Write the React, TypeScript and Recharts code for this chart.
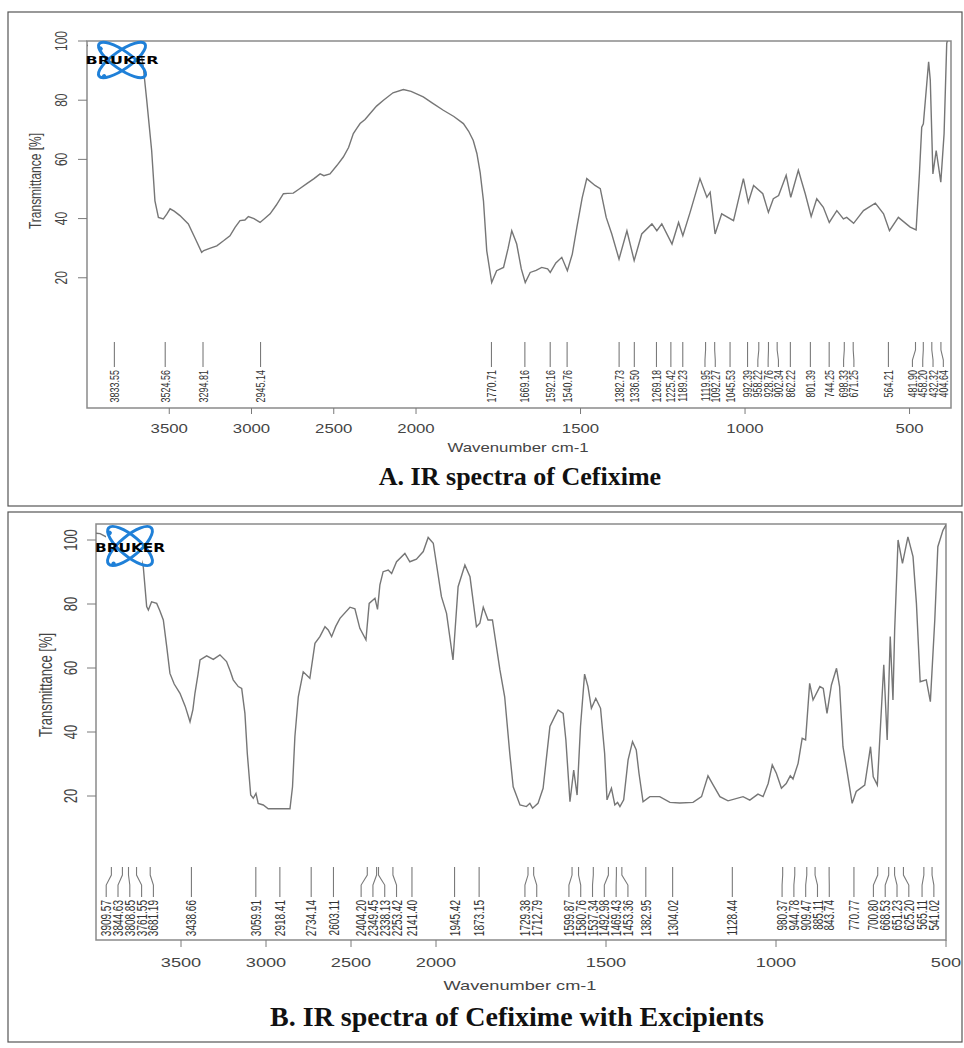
import React from 'react';
import { ComposedChart, Line, Scatter, XAxis, YAxis, ReferenceArea } from 'recharts';

// A. Cefixime
const wavenumberA = [
  4000, 3900, 3800, 3700, 3672, 3658, 3637, 3607, 3587, 3566,
  3536, 3515, 3495, 3470, 3435, 3384, 3340, 3303, 3290, 3250,
  3211, 3170, 3131, 3100, 3070, 3040, 3019, 2985, 2948, 2920,
  2887, 2850, 2806, 2780, 2746, 2710, 2664, 2620, 2583, 2560,
  2523, 2480, 2442, 2410, 2381, 2360, 2340, 2310, 2279, 2240,
  2198, 2140, 2077, 2030, 1978, 1950, 1917, 1885, 1856, 1840,
  1826, 1815, 1805, 1795, 1785, 1770, 1755, 1734, 1720, 1709,
  1694, 1680, 1668, 1653, 1635, 1618, 1600, 1592, 1575, 1557,
  1540, 1525, 1511, 1495, 1481, 1456, 1440, 1422, 1405, 1383,
  1359, 1337, 1314, 1283, 1268, 1253, 1222, 1202, 1189, 1167,
  1137, 1116, 1106, 1091, 1071, 1035, 1005, 990, 974, 946,
  929, 914, 898, 875, 861, 838, 817, 799, 782, 762,
  744, 721, 701, 691, 670, 640, 604, 579, 561, 534,
  498, 480, 470, 463, 458, 442, 437, 429, 419, 405,
  395, 387, 378,
];
const transmittanceA = [
  98.5, 98.8, 99, 98, 96, 91.3, 80, 63, 46, 40.4,
  39.9, 41.5, 43.3, 42.5, 41, 38.2, 33, 28.6, 29.2, 30,
  30.8, 32.5, 34.2, 37, 39.3, 39.5, 40.7, 40, 38.7, 40,
  41.6, 44.5, 48.4, 48.5, 48.6, 50, 51.8, 53.5, 55.1, 54.5,
  55.1, 58, 60.8, 64, 68.7, 70.5, 72.1, 73.5, 75.5, 78,
  80, 82.5, 83.6, 83, 81.1, 79, 76.6, 74.5, 72.1, 69.5,
  66.4, 62, 55.5, 46, 29.1, 18.4, 22.4, 23.5, 30, 35.9,
  31.4, 23, 18.4, 21.8, 22.5, 23.5, 23, 21.8, 25, 26.9,
  22.4, 28, 37.1, 47, 53.5, 51.2, 50.1, 40.4, 34.8, 26.3,
  35.9, 25.8, 34.8, 38.2, 35.9, 38.2, 31.4, 38.7, 34.2, 42.1,
  53.5, 47.2, 48.9, 34.8, 41.6, 39.3, 53.5, 45.5, 51.2, 48.4,
  42.1, 46.7, 47.8, 54.6, 47.2, 56.3, 48.4, 40.7, 46.7, 43.8,
  38.7, 42.7, 39.9, 40.4, 38.4, 42.7, 45.2, 41.6, 35.9, 40.4,
  37.1, 36.2, 55.1, 70.9, 72, 93, 86.8, 55.1, 63, 52.3,
  68.7, 99.2, 103,
];
const peaksA = [
  3833.55, 3524.56, 3294.81, 2945.14, 1770.71, 1669.16, 1592.16, 1540.76,
  1382.73, 1336.5, 1269.18, 1225.42, 1189.23, 1119.95, 1092.27, 1045.53,
  992.39, 958.22, 928.76, 902.34, 862.22, 801.39, 744.25, 698.33, 671.25,
  564.21, 481.9, 458.2, 432.32, 404.64,
];

// B. Cefixime with excipients
const wavenumberB = [
  4000, 3976, 3940, 3918, 3859, 3800, 3750, 3722, 3702, 3692,
  3673, 3643, 3625, 3604, 3584, 3565, 3540, 3506, 3475, 3447,
  3430, 3418, 3400, 3388, 3349, 3310, 3271, 3232, 3210, 3193,
  3163, 3143, 3124, 3110, 3090, 3075, 3059, 3046, 3016, 2987,
  2920, 2859, 2844, 2830, 2810, 2781, 2742, 2712, 2683, 2653,
  2634, 2614, 2590, 2565, 2506, 2477, 2448, 2412, 2393, 2359,
  2344, 2330, 2311, 2281, 2261, 2232, 2183, 2154, 2115, 2075,
  2046, 2016, 1984, 1969, 1950, 1935, 1915, 1900, 1881, 1871,
  1861, 1847, 1834, 1812, 1798, 1783, 1773, 1753, 1734, 1724,
  1716, 1700, 1685, 1665, 1651, 1641, 1626, 1618, 1606, 1595,
  1585, 1575, 1563, 1553, 1543, 1530, 1516, 1504, 1497, 1484,
  1474, 1466, 1459, 1448, 1435, 1422, 1411, 1403, 1391, 1371,
  1342, 1312, 1283, 1244, 1219, 1200, 1185, 1165, 1141, 1097,
  1077, 1053, 1038, 1023, 1011, 999, 984, 970, 958, 950,
  935, 923, 913, 901, 891, 871, 861, 850, 837, 822,
  813, 803, 790, 776, 764, 739, 722, 714, 702, 683,
  673, 664, 656, 651, 641, 628, 612, 597, 587, 576,
  558, 546, 533, 524, 509, 500,
];
const transmittanceB = [
  102.1, 102, 101, 100, 100, 99, 97, 91.7, 79.2, 78.1,
  80.7, 80.2, 78, 75, 66.7, 58.3, 55, 52.1, 48, 43.2,
  47, 52.1, 58, 62.5, 63.8, 62.7, 64.1, 62, 59, 56.3,
  54.2, 53.6, 45.8, 33.3, 20.3, 19.3, 20.8, 17.7, 17.2, 16,
  16, 16, 22.9, 38.6, 51, 58.8, 56.8, 67.7, 69.8, 72.9,
  71.9, 69.8, 73, 75.5, 79, 78.5, 72.4, 68.8, 80.2, 81.8,
  78.3, 86, 90.1, 90.6, 89.5, 93.2, 95.8, 93.2, 94, 96.4,
  100.8, 99, 82.3, 77.1, 62.5, 85.4, 92.2, 88.5, 72.9, 74,
  79, 75, 75, 59.4, 51, 33.3, 22.9, 17.2, 16.7, 17.7,
  16.2, 17.7, 22.4, 41.7, 44.8, 46.9, 45.8, 37.5, 18.2, 28.1,
  20.3, 41.7, 58.1, 54.2, 47.4, 50.5, 47.4, 33.3, 18.8, 22.4,
  17.2, 18, 16.7, 18.8, 31.3, 37, 34.4, 27.1, 18.2, 19.8,
  19.8, 18, 17.8, 18, 19.8, 26.3, 23.5, 19.8, 18.5, 19.8,
  18.7, 20.6, 19.8, 23.9, 29.7, 27.1, 22.4, 23.9, 26.3, 25.3,
  30.2, 38, 37.5, 55.2, 50, 54.2, 53.6, 45.8, 54.7, 59.9,
  54.2, 35.4, 27.1, 17.7, 21.4, 23.4, 35.4, 26, 23.4, 61,
  37.5, 69.8, 50, 71.9, 100, 92.7, 101, 94.8, 80.2, 55.7,
  56.3, 49.5, 75, 97.9, 103, 104.7,
];
const peaksB = [
  3909.57, 3844.63, 3808.85, 3761.55, 3681.19, 3438.66, 3059.91, 2918.41,
  2734.14, 2603.11, 2404.2, 2349.45, 2338.13, 2253.42, 2141.4, 1945.42,
  1873.15, 1729.38, 1712.79, 1599.87, 1580.76, 1537.34, 1492.98, 1469.43,
  1453.36, 1382.95, 1304.02, 1128.44, 980.37, 944.78, 909.47, 885.11,
  843.74, 770.77, 700.8, 668.53, 651.23, 625.2, 565.11, 541.02,
];

const xTickLabels = [3500, 3000, 2500, 2000, 1500, 1000, 500];
const yTickLabels = [20, 40, 60, 80, 100];

// OPUS draws the range above 2000 cm-1 compressed by a factor of two
const T_MAX = 3000;
const toT = (w: number) => (w > 2000 ? 2000 + (w - 2000) / 2 : w);
const fromT = (t: number) => Math.round(t > 2000 ? 2000 + (t - 2000) * 2 : t);

const STRETCH = 1.4;
const SANS = '"Liberation Sans", Arial, sans-serif';
const SERIF = '"Liberation Serif", "Times New Roman", serif';
const Y_AXIS_W = 60;

// push crowded peak labels apart, keeping each group centred on its peaks
function spread(ideal: number[], gap: number, lo: number, hi: number) {
  type G = { n: number; sum: number; first: number };
  const place = (g: G) => {
    const f = g.sum / g.n - ((g.n - 1) * gap) / 2;
    g.first = Math.min(Math.max(f, lo), hi - (g.n - 1) * gap);
  };
  const groups: G[] = [];
  ideal.forEach((x) => {
    const g = { n: 1, sum: x, first: x };
    place(g);
    groups.push(g);
    while (groups.length > 1) {
      const a = groups[groups.length - 2];
      const b = groups[groups.length - 1];
      if (a.first + a.n * gap <= b.first + 0.01) break;
      const m = { n: a.n + b.n, sum: a.sum + b.sum, first: 0 };
      place(m);
      groups.splice(groups.length - 2, 2, m);
    }
  });
  const out: number[] = [];
  groups.forEach((g) => {
    for (let k = 0; k < g.n; k++) out.push(g.first + k * gap);
  });
  return out;
}

type Geom = {
  bend1: number;
  bend2: number;
  len: number;
  gap: number;
  peakFs: number;
  tickFs: number;
  tickSize: number;
  tickOffset: number;
  yLabelOffset: number;
};

type PanelProps = {
  top: number;
  height: number;
  margin: { top: number; right: number; bottom: number; left: number };
  tMin: number;
  yDomain: [number, number];
  wavenumbers: number[];
  values: number[];
  peaks: number[];
  markTop: number;
  geom: Geom;
};

function SpectrumPanel(p: PanelProps) {
  const g = p.geom;
  const plotW = 964 - p.margin.left - Y_AXIS_W - p.margin.right;
  const pxPerT = plotW / (T_MAX - p.tMin);
  const series = p.wavenumbers.map((w, i) => ({ t: toT(w), v: p.values[i] }));
  const ideal = p.peaks.map((w) => (T_MAX - toT(w)) * pxPerT);
  const placed = spread(ideal, g.gap, 4, plotW - 4);
  const marks = p.peaks.map((w, i) => ({
    t: toT(w),
    v: p.markTop,
    label: w.toFixed(2),
    shift: placed[i] - ideal[i],
  }));
  const xTicks = xTickLabels.map(toT);

  const peakShape = (props: any) => {
    const { cx, cy, payload } = props;
    const lx = cx + payload.shift;
    return (
      <g>
        <polyline
          points={`${cx},${cy} ${cx},${cy + g.bend1} ${lx},${cy + g.bend2} ${lx},${cy + g.len}`}
          fill="none"
          stroke="#7a7a7a"
          strokeWidth={1.1}
        />
        <text
          transform={`translate(${lx + 0.36 * g.peakFs * STRETCH},${cy + g.len + 3}) scale(${STRETCH},1) rotate(-90)`}
          textAnchor="end"
          fontSize={g.peakFs}
          fontFamily={SANS}
          fill="#333"
        >
          {payload.label}
        </text>
      </g>
    );
  };

  const xTick = (props: any) => {
    const { x, y, payload } = props;
    return (
      <text
        transform={`translate(${x},${y + g.tickOffset}) scale(${STRETCH},1)`}
        textAnchor="middle"
        fontSize={g.tickFs}
        fontFamily={SANS}
        fill="#444"
      >
        {fromT(payload.value)}
      </text>
    );
  };

  const yTick = (props: any) => {
    const { x, y, payload } = props;
    const bx = x - g.yLabelOffset + 0.36 * g.tickFs * STRETCH;
    return (
      <text
        transform={`translate(${bx},${y}) scale(${STRETCH},1) rotate(-90)`}
        textAnchor="middle"
        fontSize={g.tickFs}
        fontFamily={SANS}
        fill="#444"
      >
        {payload.value}
      </text>
    );
  };

  return (
    <div style={{ position: 'absolute', left: 0, top: p.top }}>
      <ComposedChart width={964} height={p.height} margin={p.margin}>
        <XAxis
          dataKey="t"
          type="number"
          domain={[p.tMin, T_MAX]}
          reversed
          allowDataOverflow
          ticks={xTicks}
          interval={0}
          tick={xTick}
          tickSize={g.tickSize}
          tickLine={{ stroke: '#7a7a7a' }}
          axisLine={false}
          height={40}
        />
        <YAxis
          type="number"
          domain={p.yDomain}
          allowDataOverflow
          ticks={yTickLabels}
          interval={0}
          tick={yTick}
          tickSize={9}
          tickMargin={0}
          tickLine={{ stroke: '#7a7a7a' }}
          axisLine={false}
          width={Y_AXIS_W}
        />
        <ReferenceArea
          x1={p.tMin}
          x2={T_MAX}
          y1={p.yDomain[0]}
          y2={p.yDomain[1]}
          fill="none"
          stroke="#8a8a8a"
          strokeWidth={1.5}
          ifOverflow="visible"
        />
        <Line
          data={series}
          dataKey="v"
          type="linear"
          dot={false}
          stroke="#767676"
          strokeWidth={1.4}
          isAnimationActive={false}
        />
        <Scatter data={marks} dataKey="v" shape={peakShape} isAnimationActive={false} />
      </ComposedChart>
    </div>
  );
}

function BrukerLogo(props: {
  cx: number;
  cy: number;
  rx: number;
  ry: number;
  angle: number;
  fs: number;
  textW: number;
  textY: number;
  mask: [number, number, number, number];
}) {
  const { cx, cy, rx, ry, angle, fs, textW, textY, mask } = props;
  return (
    <g>
      {/* the logo sits on a white patch that hides the trace behind it */}
      <rect x={mask[0]} y={mask[1]} width={mask[2]} height={mask[3]} fill="#fff" />
      {[angle, -angle].map((a) => (
        <g key={a} transform={`rotate(${a} ${cx} ${cy})`}>
          <ellipse cx={cx} cy={cy} rx={rx} ry={ry} fill="none" stroke="#1f80d8" strokeWidth={3} />
          <circle cx={cx - rx + 4} cy={cy + 3} r={2.2} fill="#1f80d8" />
        </g>
      ))}
      <text
        x={cx}
        y={textY}
        textAnchor="middle"
        fontSize={fs}
        fontWeight={900}
        fontFamily='"DejaVu Sans", sans-serif'
        textLength={textW}
        lengthAdjust="spacingAndGlyphs"
        fill="#000"
      >
        BRUKER
      </text>
    </g>
  );
}

function Decorations() {
  return (
    <svg
      width={964}
      height={1048}
      style={{ position: 'absolute', left: 0, top: 0, pointerEvents: 'none' }}
    >
      <rect x={8} y={12} width={954} height={494} fill="none" stroke="#555" strokeWidth={1.2} />
      <rect x={8} y={512} width={954} height={530} fill="none" stroke="#555" strokeWidth={1.2} />

      <BrukerLogo cx={122} cy={60} rx={28} ry={9} angle={35} fs={10} textW={73} textY={64} mask={[88, 42, 53, 38]} />
      <BrukerLogo cx={130} cy={546} rx={28} ry={10} angle={40} fs={13} textW={70} textY={552} mask={[106, 525, 36, 44]} />

      <text
        transform={`translate(${35 + 0.36 * 12 * STRETCH},181) scale(${STRETCH},1) rotate(-90)`}
        textAnchor="middle"
        fontSize={12}
        fontFamily={SANS}
        fill="#444"
      >
        Transmittance [%]
      </text>
      <text
        transform={`translate(518,452) scale(${STRETCH},1)`}
        textAnchor="middle"
        fontSize={12}
        fontFamily={SANS}
        fill="#444"
      >
        Wavenumber cm-1
      </text>
      <text x={520} y={485} textAnchor="middle" fontSize={26} fontWeight="bold" fontFamily={SERIF} fill="#111">
        A. IR spectra of Cefixime
      </text>

      <text
        transform={`translate(${45 + 0.36 * 13 * STRETCH},685) scale(${STRETCH},1) rotate(-90)`}
        textAnchor="middle"
        fontSize={13}
        fontFamily={SANS}
        fill="#444"
      >
        Transmittance [%]
      </text>
      <text
        transform={`translate(520,990) scale(${STRETCH},1)`}
        textAnchor="middle"
        fontSize={13}
        fontFamily={SANS}
        fill="#444"
      >
        Wavenumber cm-1
      </text>
      <text x={517} y={1026} textAnchor="middle" fontSize={28} fontWeight="bold" fontFamily={SERIF} fill="#111">
        B. IR spectra of Cefixime with Excipients
      </text>
    </svg>
  );
}

export default function App() {
  return (
    <div style={{ position: 'absolute', left: 0, top: 0, width: 964, height: 1048, background: '#fff' }}>
      <SpectrumPanel
        top={0}
        height={500}
        margin={{ top: 41, right: 13, bottom: 52, left: 27 }}
        tMin={374}
        yDomain={[-24, 100]}
        wavenumbers={wavenumberA}
        values={transmittanceA}
        peaks={peaksA}
        markTop={-1.7}
        geom={{
          bend1: 8,
          bend2: 18,
          len: 25,
          gap: 10.3,
          peakFs: 9,
          tickFs: 12,
          tickSize: 6,
          tickOffset: 17,
          yLabelOffset: 17,
        }}
      />
      <SpectrumPanel
        top={500}
        height={520}
        margin={{ top: 24, right: 18, bottom: 40, left: 36 }}
        tMin={500}
        yDomain={[-25, 105]}
        wavenumbers={wavenumberB}
        values={transmittanceB}
        peaks={peaksB}
        markTop={-2.2}
        geom={{
          bend1: 8,
          bend2: 18,
          len: 30,
          gap: 11.8,
          peakFs: 10,
          tickFs: 13,
          tickSize: 7,
          tickOffset: 18,
          yLabelOffset: 17,
        }}
      />
      <Decorations />
    </div>
  );
}
